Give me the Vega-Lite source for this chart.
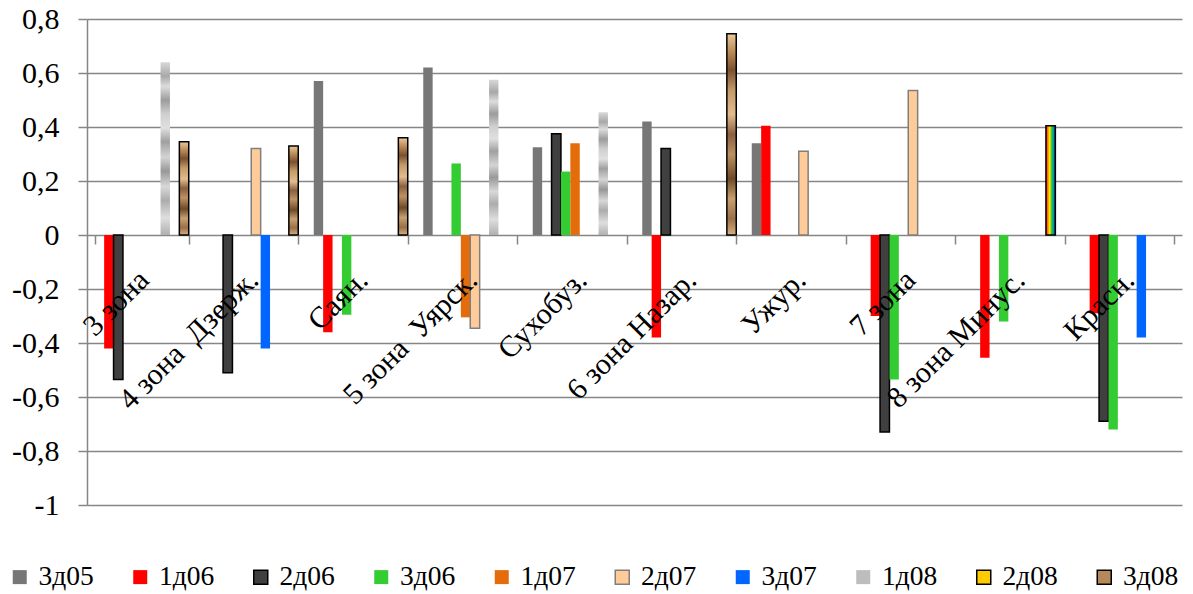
{
  "$schema": "https://vega.github.io/schema/vega-lite/v6.json",
  "width": 1095,
  "height": 486,
  "autosize": {"type": "none"},
  "padding": {"left": 87, "top": 19, "right": 11, "bottom": 89},
  "config": {"view": {"stroke": null}, "font": "'Liberation Serif', 'Times New Roman', serif"},
  "data": {
    "values": [
      {"cat": "3 зона", "s": "1д06", "v": -0.42},
      {"cat": "3 зона", "s": "2д06", "v": -0.535},
      {"cat": "3 зона", "s": "1д08", "v": 0.64},
      {"cat": "3 зона", "s": "3д08", "v": 0.345},
      {"cat": "4 зона \u00a0Дзерж.", "s": "2д06", "v": -0.51},
      {"cat": "4 зона \u00a0Дзерж.", "s": "2д07", "v": 0.32},
      {"cat": "4 зона \u00a0Дзерж.", "s": "3д07", "v": -0.42},
      {"cat": "4 зона \u00a0Дзерж.", "s": "3д08", "v": 0.33},
      {"cat": "Саян.", "s": "3д05", "v": 0.57},
      {"cat": "Саян.", "s": "1д06", "v": -0.36},
      {"cat": "Саян.", "s": "3д06", "v": -0.295},
      {"cat": "Саян.", "s": "3д08", "v": 0.36},
      {"cat": "5 зона \u00a0Уярск.", "s": "3д05", "v": 0.62},
      {"cat": "5 зона \u00a0Уярск.", "s": "3д06", "v": 0.265},
      {"cat": "5 зона \u00a0Уярск.", "s": "1д07", "v": -0.305},
      {"cat": "5 зона \u00a0Уярск.", "s": "2д07", "v": -0.345},
      {"cat": "5 зона \u00a0Уярск.", "s": "1д08", "v": 0.575},
      {"cat": "Сухобуз.", "s": "3д05", "v": 0.325},
      {"cat": "Сухобуз.", "s": "2д06", "v": 0.375},
      {"cat": "Сухобуз.", "s": "3д06", "v": 0.235},
      {"cat": "Сухобуз.", "s": "1д07", "v": 0.34},
      {"cat": "Сухобуз.", "s": "1д08", "v": 0.455},
      {"cat": "6 зона Назар.", "s": "3д05", "v": 0.42},
      {"cat": "6 зона Назар.", "s": "1д06", "v": -0.38},
      {"cat": "6 зона Назар.", "s": "2д06", "v": 0.32},
      {"cat": "6 зона Назар.", "s": "3д08", "v": 0.745},
      {"cat": "Ужур.", "s": "3д05", "v": 0.34},
      {"cat": "Ужур.", "s": "1д06", "v": 0.405},
      {"cat": "Ужур.", "s": "2д07", "v": 0.31},
      {"cat": "7 зона", "s": "1д06", "v": -0.3},
      {"cat": "7 зона", "s": "2д06", "v": -0.73},
      {"cat": "7 зона", "s": "3д06", "v": -0.535},
      {"cat": "7 зона", "s": "2д07", "v": 0.535},
      {"cat": "8 зона Минус.", "s": "1д06", "v": -0.455},
      {"cat": "8 зона Минус.", "s": "3д06", "v": -0.32},
      {"cat": "8 зона Минус.", "s": "2д08", "v": 0.405},
      {"cat": "Красн.", "s": "1д06", "v": -0.29},
      {"cat": "Красн.", "s": "2д06", "v": -0.69},
      {"cat": "Красн.", "s": "3д06", "v": -0.72},
      {"cat": "Красн.", "s": "3д07", "v": -0.38}
    ]
  },
  "encoding": {
    "x": {
      "field": "cat",
      "type": "nominal",
      "sort": ["3 зона", "4 зона \u00a0Дзерж.", "Саян.", "5 зона \u00a0Уярск.", "Сухобуз.", "6 зона Назар.", "Ужур.", "7 зона", "8 зона Минус.", "Красн."],
      "scale": {"domain": ["3 зона", "4 зона \u00a0Дзерж.", "Саян.", "5 зона \u00a0Уярск.", "Сухобуз.", "6 зона Назар.", "Ужур.", "7 зона", "8 зона Минус.", "Красн."], "paddingInner": 0.1416, "paddingOuter": 0.0708},
      "axis": {
        "title": null,
        "orient": "bottom",
        "offset": -270,
        "domain": false,
        "grid": false,
        "tickBand": "extent",
        "tickSize": 9,
        "tickColor": "#868686",
        "tickWidth": 1.5,
        "labelAngle": -45,
        "labelAlign": "right",
        "labelBaseline": "middle",
        "labelPadding": 31,
        "labelOffset": 2,
        "labelFontSize": 30,
        "labelColor": "black",
        "labelLimit": 500,
        "labelOverlap": false,
        "labelBound": false,
        "zindex": 1
      }
    },
    "xOffset": {
      "field": "s",
      "type": "nominal",
      "scale": {"domain": ["3д05", "1д06", "2д06", "3д06", "1д07", "2д07", "3д07", "1д08", "2д08", "3д08"], "paddingInner": 0, "paddingOuter": 0}
    },
    "y": {
      "field": "v",
      "type": "quantitative",
      "scale": {"domain": [-1, 0.8], "nice": false, "zero": true},
      "axis": {
        "title": null,
        "values": [-1, -0.8, -0.6, -0.4, -0.2, 0, 0.2, 0.4, 0.6, 0.8],
        "labelExpr": "replace(toString(round(datum.value*10)/10), '.', ',')",
        "domainColor": "#868686",
        "domainWidth": 1.5,
        "tickColor": "#868686",
        "tickSize": 9,
        "tickWidth": 1.5,
        "gridColor": "#868686",
        "gridWidth": 1.5,
        "labelPadding": 19,
        "labelFontSize": 30,
        "labelColor": "black"
      }
    }
  },
  "layer": [
    {
      "transform": [{"filter": "datum.s !== '1д08' && datum.s !== '2д08' && datum.s !== '3д08'"}],
      "mark": {"type": "bar", "strokeWidth": 1.5},
      "encoding": {
        "fill": {
          "field": "s",
          "type": "nominal",
          "scale": {
            "domain": ["3д05", "1д06", "2д06", "3д06", "1д07", "2д07", "3д07", "1д08", "2д08", "3д08"],
            "range": ["#777777", "#ff0000", "#404040", "#33cc33", "#e46c0a", "#ffcc99", "#0066ff", "#bdbdbd", "#ffcc00", "#b48a5c"]
          },
          "legend": {
            "orient": "none",
            "legendX": -81,
            "legendY": 544,
            "direction": "horizontal",
            "columns": 10,
            "title": null,
            "symbolType": "square",
            "symbolSize": 196,
            "symbolStrokeWidth": 1.5,
            "labelFontSize": 27.5,
            "labelColor": "black",
            "labelOffset": 5,
            "columnPadding": 32.5,
            "labelLimit": 200,
            "encode": {
              "symbols": {
                "update": {
                  "fill": [
                    {"test": "datum.value === '1д08'", "value": {"gradient": "linear", "x1": 0, "y1": 0, "x2": 1, "y2": 1, "stops": [
                      {"offset": 0, "color": "#e4e4e4"}, {"offset": 0.3, "color": "#a0a0a0"}, {"offset": 0.5, "color": "#d0d0d0"}, {"offset": 0.7, "color": "#9a9a9a"}, {"offset": 1, "color": "#dcdcdc"}]}},
                    {"test": "datum.value === '2д08'", "value": {"gradient": "linear", "x1": 0, "y1": 0, "x2": 1, "y2": 0, "stops": [
                      {"offset": 0, "color": "#ff0040"}, {"offset": 0.2, "color": "#ff8000"}, {"offset": 0.4, "color": "#ffee00"},
                      {"offset": 0.6, "color": "#33cc33"}, {"offset": 0.8, "color": "#009999"}, {"offset": 1, "color": "#0044cc"}]}},
                    {"test": "datum.value === '3д08'", "value": {"gradient": "linear", "x1": 0, "y1": 0, "x2": 1, "y2": 1, "stops": [
                      {"offset": 0, "color": "#f0d4ac"}, {"offset": 0.5, "color": "#c8a070"}, {"offset": 1, "color": "#6e4a28"}]}},
                    {"scale": "fill", "field": "value"}
                  ],
                  "stroke": [
                    {"test": "datum.value === '2д06' || datum.value === '2д08'", "value": "#000000"},
                    {"test": "datum.value === '2д07' || datum.value === '3д08'", "value": "#7f7f7f"},
                    {"value": "transparent"}
                  ]
                }
              }
            }
          }
        },
        "stroke": {
          "field": "s",
          "type": "nominal",
          "scale": {
            "domain": ["3д05", "1д06", "2д06", "3д06", "1д07", "2д07", "3д07", "1д08", "2д08", "3д08"],
            "range": ["transparent", "transparent", "#000000", "transparent", "transparent", "#7f7f7f", "transparent", "transparent", "#000000", "#000000"]
          },
          "legend": null
        }
      }
    },
    {
      "transform": [{"filter": "datum.s === '1д08'"}],
      "mark": {"type": "bar", "fill": {"gradient": "linear", "x1": 0, "y1": 0, "x2": 0, "y2": 1, "stops": [
        {"offset": 0, "color": "#d8d8d8"}, {"offset": 0.08, "color": "#a8a8a8"}, {"offset": 0.14, "color": "#dcdcdc"},
        {"offset": 0.22, "color": "#9c9c9c"}, {"offset": 0.3, "color": "#cfcfcf"}, {"offset": 0.38, "color": "#e0e0e0"},
        {"offset": 0.46, "color": "#a0a0a0"}, {"offset": 0.55, "color": "#d4d4d4"}, {"offset": 0.63, "color": "#989898"},
        {"offset": 0.72, "color": "#d8d8d8"}, {"offset": 0.8, "color": "#acacac"}, {"offset": 0.9, "color": "#dedede"},
        {"offset": 1, "color": "#b0b0b0"}]}}
    },
    {
      "transform": [{"filter": "datum.s === '2д08'"}],
      "mark": {"type": "bar", "stroke": "#000000", "strokeWidth": 1.5, "fill": {"gradient": "linear", "x1": 0, "y1": 0, "x2": 1, "y2": 0, "stops": [
        {"offset": 0, "color": "#ff0040"}, {"offset": 0.2, "color": "#ff8000"}, {"offset": 0.4, "color": "#ffee00"},
        {"offset": 0.6, "color": "#33cc33"}, {"offset": 0.8, "color": "#009999"}, {"offset": 1, "color": "#0044cc"}]}}
    },
    {
      "transform": [{"filter": "datum.s === '3д08'"}],
      "mark": {"type": "bar", "stroke": "#000000", "strokeWidth": 1.5, "fill": {"gradient": "linear", "x1": 0, "y1": 0, "x2": 0, "y2": 1, "stops": [
        {"offset": 0, "color": "#ecc89c"}, {"offset": 0.1, "color": "#b48450"}, {"offset": 0.18, "color": "#7a5030"},
        {"offset": 0.28, "color": "#c49a68"}, {"offset": 0.4, "color": "#e2bc8e"}, {"offset": 0.5, "color": "#8a6040"},
        {"offset": 0.6, "color": "#bc9262"}, {"offset": 0.72, "color": "#6e4a28"}, {"offset": 0.82, "color": "#c8a070"},
        {"offset": 0.92, "color": "#9a7048"}, {"offset": 1, "color": "#d8b080"}]}}
    }
  ]
}
